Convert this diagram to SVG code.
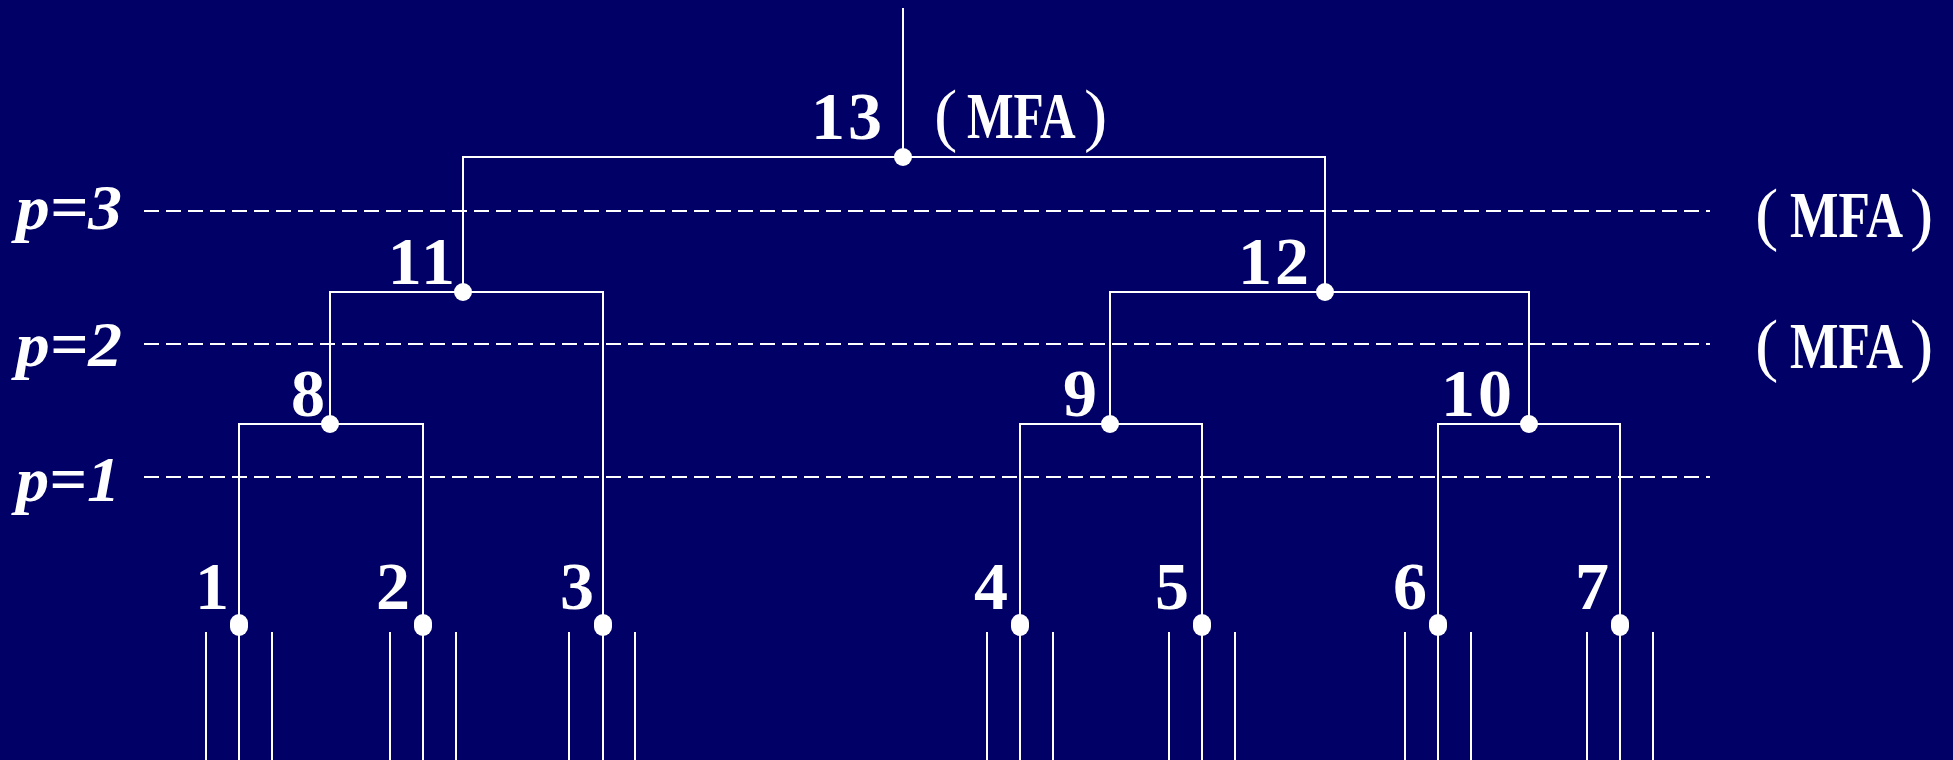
<svg xmlns="http://www.w3.org/2000/svg" width="1953" height="760" viewBox="0 0 1953 760">
  <style>
    .wire { fill: none; stroke: #ffffff; stroke-width: 2; }
    .level { fill: none; stroke: #ffffff; stroke-width: 2; stroke-dasharray: 15 7; }
    .dot { fill: #ffffff; }
    .num { font-family: "Liberation Serif", "Times New Roman", serif; font-weight: bold; font-size: 68px; fill: #ffffff; text-anchor: end; }
    .plab { font-family: "Liberation Serif", "Times New Roman", serif; font-style: italic; font-weight: bold; font-size: 64px; fill: #ffffff; }
    .mfa { font-family: "Liberation Serif", "Times New Roman", serif; font-weight: bold; font-size: 65px; fill: #ffffff; }
    .par { font-family: "Liberation Serif", "Times New Roman", serif; font-size: 70px; fill: #ffffff; }
  </style>

  <rect width="1953" height="760" fill="#000066"/>

  <!-- processor levels -->
  <g id="levels">
    <line class="level" x1="144" y1="211" x2="1710" y2="211"/>
    <line class="level" x1="144" y1="344" x2="1710" y2="344"/>
    <line class="level" x1="144" y1="477" x2="1710" y2="477"/>
    <text class="plab" x="16" y="229" textLength="106" lengthAdjust="spacingAndGlyphs">p=3</text>
    <text class="plab" x="16" y="366" textLength="106" lengthAdjust="spacingAndGlyphs">p=2</text>
    <text class="plab" x="16" y="501" textLength="104" lengthAdjust="spacingAndGlyphs">p=1</text>
  </g>

  <!-- MFA markers on the upper levels; letters condensed horizontally -->
  <g id="level-mfa">
    <g id="mfa-p3">
      <text class="par" x="1755" y="237">(</text>
      <text class="mfa" transform="translate(1790 237) scale(0.79 1)">MFA</text>
      <text class="par" x="1910" y="237">)</text>
    </g>
    <g id="mfa-p2">
      <text class="par" x="1755" y="368">(</text>
      <text class="mfa" transform="translate(1790 368) scale(0.79 1)">MFA</text>
      <text class="par" x="1910" y="368">)</text>
    </g>
  </g>

  <!-- tree edges -->
  <g id="connectors">
    <path class="wire" d="M903 8 V157"/>
    <path class="wire" d="M463 292 V157 H1325 V292"/>
    <path class="wire" d="M330 424 V292 H603 V760"/>
    <path class="wire" d="M1110 424 V292 H1529 V424"/>
    <path class="wire" d="M239 760 V424 H423 V760"/>
    <path class="wire" d="M1020 760 V424 H1202 V760"/>
    <path class="wire" d="M1438 760 V424 H1620 V760"/>
    <!-- neighbouring leaf wires -->
    <path class="wire" d="M206 632 V760 M272 632 V760 M390 632 V760 M456 632 V760 M569 632 V760 M635 632 V760 M987 632 V760 M1053 632 V760 M1169 632 V760 M1235 632 V760 M1405 632 V760 M1471 632 V760 M1587 632 V760 M1653 632 V760"/>
  </g>

  <!-- internal nodes -->
  <g id="node-13">
    <circle class="dot" cx="903" cy="157" r="9"/>
    <text class="num" x="885" y="139" letter-spacing="3">13</text>
    <text class="par" x="934" y="138">(</text>
    <text class="mfa" transform="translate(967 138) scale(0.76 1)">MFA</text>
    <text class="par" x="1084" y="138">)</text>
  </g>
  <g id="node-11">
    <circle class="dot" cx="463" cy="292" r="9"/>
    <text class="num" x="458" y="284" letter-spacing="3">11</text>
  </g>
  <g id="node-12">
    <circle class="dot" cx="1325" cy="292" r="9"/>
    <text class="num" x="1312" y="284" letter-spacing="3">12</text>
  </g>
  <g id="node-8">
    <circle class="dot" cx="330" cy="424" r="9"/>
    <text class="num" x="325" y="416">8</text>
  </g>
  <g id="node-9">
    <circle class="dot" cx="1110" cy="424" r="9"/>
    <text class="num" x="1097" y="416">9</text>
  </g>
  <g id="node-10">
    <circle class="dot" cx="1529" cy="424" r="9"/>
    <text class="num" x="1515" y="416" letter-spacing="3">10</text>
  </g>

  <!-- leaves -->
  <g id="node-1">
    <rect class="dot" x="230" y="614" width="18" height="22" rx="9" ry="9"/>
    <text class="num" x="229" y="609">1</text>
  </g>
  <g id="node-2">
    <rect class="dot" x="414" y="614" width="18" height="22" rx="9" ry="9"/>
    <text class="num" x="410" y="609">2</text>
  </g>
  <g id="node-3">
    <rect class="dot" x="594" y="614" width="18" height="22" rx="9" ry="9"/>
    <text class="num" x="594" y="609">3</text>
  </g>
  <g id="node-4">
    <rect class="dot" x="1011" y="614" width="18" height="22" rx="9" ry="9"/>
    <text class="num" x="1008" y="609">4</text>
  </g>
  <g id="node-5">
    <rect class="dot" x="1193" y="614" width="18" height="22" rx="9" ry="9"/>
    <text class="num" x="1189" y="609">5</text>
  </g>
  <g id="node-6">
    <rect class="dot" x="1429" y="614" width="18" height="22" rx="9" ry="9"/>
    <text class="num" x="1427" y="609">6</text>
  </g>
  <g id="node-7">
    <rect class="dot" x="1611" y="614" width="18" height="22" rx="9" ry="9"/>
    <text class="num" x="1609" y="609">7</text>
  </g>
</svg>
